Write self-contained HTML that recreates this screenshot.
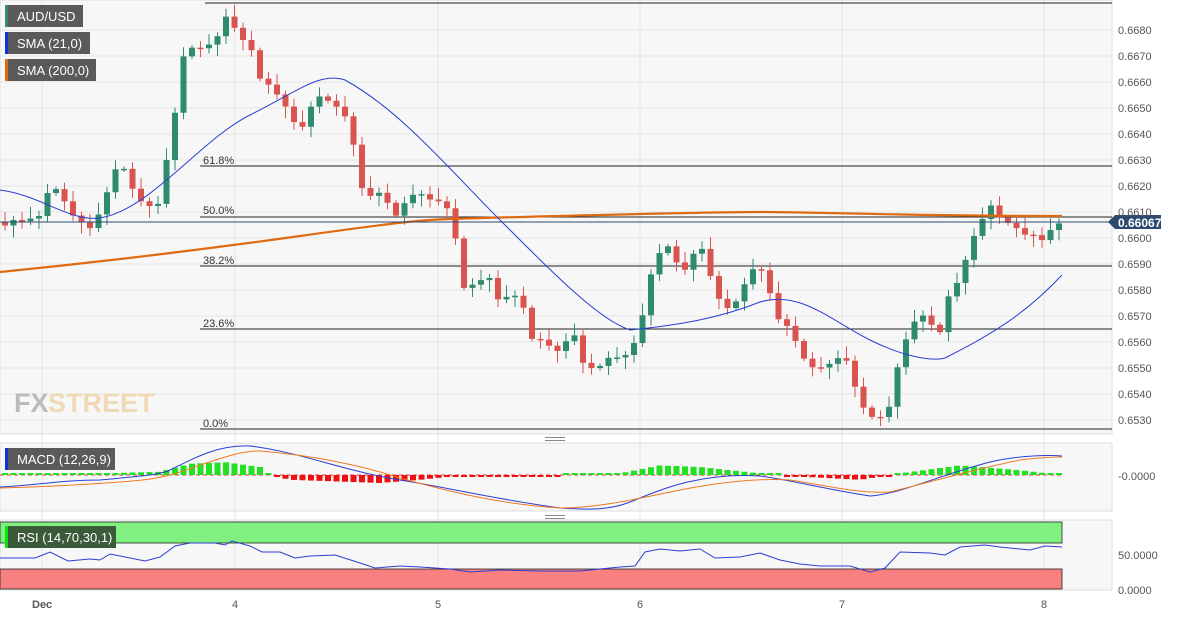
<!DOCTYPE html><html><head><meta charset="utf-8"><style>
body{margin:0;background:#fff;font-family:"Liberation Sans",sans-serif}
svg text{font-family:"Liberation Sans",sans-serif}
</style></head><body>
<svg id="s" width="1182" height="616" xmlns="http://www.w3.org/2000/svg">
<rect x="0" y="0" width="1112" height="434" fill="#f7f7f8" stroke="#ddd"/>
<rect x="0" y="443" width="1112" height="68" fill="#f7f7f8" stroke="#ddd"/>
<rect x="0" y="520" width="1112" height="70" fill="#f7f7f8" stroke="#ddd"/>
<g stroke="#e4e4e6" stroke-width="1">
<line x1="42" y1="0" x2="42" y2="590"/><line x1="235" y1="0" x2="235" y2="590"/><line x1="438" y1="0" x2="438" y2="590"/><line x1="640" y1="0" x2="640" y2="590"/><line x1="842" y1="0" x2="842" y2="590"/><line x1="1044" y1="0" x2="1044" y2="590"/>
<line x1="0" y1="30" x2="1112" y2="30"/><line x1="0" y1="56" x2="1112" y2="56"/><line x1="0" y1="82" x2="1112" y2="82"/><line x1="0" y1="108" x2="1112" y2="108"/><line x1="0" y1="134" x2="1112" y2="134"/><line x1="0" y1="160" x2="1112" y2="160"/><line x1="0" y1="186" x2="1112" y2="186"/><line x1="0" y1="212" x2="1112" y2="212"/><line x1="0" y1="238" x2="1112" y2="238"/><line x1="0" y1="264" x2="1112" y2="264"/><line x1="0" y1="290" x2="1112" y2="290"/><line x1="0" y1="316" x2="1112" y2="316"/><line x1="0" y1="342" x2="1112" y2="342"/><line x1="0" y1="368" x2="1112" y2="368"/><line x1="0" y1="394" x2="1112" y2="394"/><line x1="0" y1="420" x2="1112" y2="420"/>
</g>
<text x="14" y="412" font-size="27" font-weight="bold" fill="#bbb">FX</text><text x="48" y="412" font-size="27" font-weight="bold" fill="#f0d9b5">STREET</text>
<g stroke="#222" stroke-width="1">
<line x1="205" y1="3" x2="1112" y2="3"/><line x1="200" y1="166" x2="1112" y2="166"/><line x1="200" y1="217" x2="1112" y2="217"/><line x1="200" y1="266" x2="1112" y2="266"/><line x1="200" y1="329" x2="1112" y2="329"/><line x1="200" y1="429" x2="1112" y2="429"/>
</g>
<g font-size="11" fill="#333"><text x="203" y="164">61.8%</text><text x="203" y="214">50.0%</text><text x="203" y="264">38.2%</text><text x="203" y="327">23.6%</text><text x="203" y="427">0.0%</text></g>
<g id="c"></g>
<path d="M0,272 C100,262 200,250 300,236 S420,220 450,219 S700,212 760,212 S900,216 1062,216" fill="none" stroke="#e06a10" stroke-width="2.2"/>
<path d="M0,190 C40,195 70,222 100,218 C150,210 200,140 250,115 C300,90 320,72 345,80 C400,110 450,170 500,220 C560,280 600,320 630,330 C680,325 720,318 760,302 C800,290 830,320 870,340 C900,355 930,362 945,358 C980,340 1020,320 1062,275" fill="none" stroke="#2a3fd0" stroke-width="1"/>
<line x1="0" y1="222" x2="1112" y2="222" stroke="#2c4a6e" stroke-width="1"/>
<path d="M1108,222 l7,-7 h46 v14 h-46z" fill="#2c4a6e"/>
<text x="1118" y="227" font-size="12" font-weight="bold" fill="#fff">0.66067</text>
<g font-size="11" fill="#555">
<text x="1118" y="34">0.6680</text><text x="1118" y="60">0.6670</text><text x="1118" y="86">0.6660</text><text x="1118" y="112">0.6650</text><text x="1118" y="138">0.6640</text><text x="1118" y="164">0.6630</text><text x="1118" y="190">0.6620</text><text x="1118" y="216">0.6610</text><text x="1118" y="242">0.6600</text><text x="1118" y="268">0.6590</text><text x="1118" y="294">0.6580</text><text x="1118" y="320">0.6570</text><text x="1118" y="346">0.6560</text><text x="1118" y="372">0.6550</text><text x="1118" y="398">0.6540</text><text x="1118" y="424">0.6530</text>
<text x="1118" y="480">-0.0000</text><text x="1118" y="559">50.0000</text><text x="1118" y="594">0.0000</text>
<text x="32" y="608" font-weight="bold">Dec</text><text x="232" y="608">4</text><text x="435" y="608">5</text><text x="637" y="608">6</text><text x="839" y="608">7</text><text x="1041" y="608">8</text>
</g>
<rect x="545" y="437" width="20" height="1" fill="#888"/><rect x="545" y="440" width="20" height="1" fill="#888"/>
<rect x="545" y="515" width="20" height="1" fill="#888"/><rect x="545" y="518" width="20" height="1" fill="#888"/>
<line x1="0" y1="475" x2="1062" y2="475" stroke="#e33" stroke-dasharray="4,3" stroke-width="1"/>
<g id="h"></g>
<path d="M0,487 C40,485 60,480 100,480 C140,476 160,475 170,470 C200,455 220,445 250,446 C300,452 340,470 400,480 C450,488 500,500 560,508 C590,510 610,510 630,502 C660,490 700,472 760,476 C790,480 830,490 870,496 C900,494 940,475 990,462 C1020,455 1050,455 1062,456" fill="none" stroke="#2a3fd0" stroke-width="1"/>
<path d="M0,488 C40,487 80,485 120,482 C150,480 165,477 180,472 C210,462 240,450 260,451 C310,455 360,465 400,478 C450,492 500,504 560,508 C600,508 640,498 680,490 C720,482 760,478 790,480 C830,486 860,494 890,492 C930,482 980,468 1020,460 C1045,457 1060,457 1062,457" fill="none" stroke="#f07a20" stroke-width="1"/>
<rect x="0" y="522" width="1062" height="21" fill="#80f080" stroke="#222" stroke-width="0.8"/>
<rect x="0" y="569" width="1062" height="20" fill="#f88080" stroke="#222" stroke-width="0.8"/>
<path d="M0,558 L35,558 L50,552 L68,561 L90,559 L100,560 L110,554 L125,557 L145,561 L160,557 L175,546 L190,543 L215,543 L225,545 L232,541 L250,546 L262,552 L280,552 L295,558 L310,556 L335,555 L360,563 L375,568 L400,566 L420,567 L450,569 L470,572 L500,570 L540,571 L560,571 L580,571 L600,569 L620,567 L635,566 L645,552 L660,549 L680,551 L700,549 L715,558 L740,557 L760,553 L780,560 L800,564 L820,566 L850,566 L870,572 L885,568 L900,552 L930,553 L945,555 L960,547 L985,545 L1000,547 L1030,550 L1045,546 L1062,547" fill="none" stroke="#2a3fd0" stroke-width="1"/>
<g font-size="13" fill="#fff">
<rect x="5" y="5" width="78" height="22" fill="#5a5a5a"/><rect x="5" y="5" width="3" height="22" fill="#2e8b6e"/><text x="17" y="21">AUD/USD</text>
<rect x="5" y="32" width="85" height="22" fill="#5a5a5a"/><rect x="5" y="32" width="3" height="22" fill="#1030e0"/><text x="17" y="48">SMA (21,0)</text>
<rect x="5" y="59" width="91" height="22" fill="#5a5a5a"/><rect x="5" y="59" width="3" height="22" fill="#e06a10"/><text x="17" y="75">SMA (200,0)</text>
<rect x="5" y="448" width="110" height="22" fill="#5a5a5a"/><rect x="5" y="448" width="3" height="22" fill="#1030e0"/><text x="17" y="464">MACD (12,26,9)</text>
<rect x="5" y="526" width="111" height="22" fill="#3a5a3a"/><rect x="5" y="526" width="3" height="22" fill="#10e010"/><text x="17" y="542">RSI (14,70,30,1)</text>
</g>
</svg>
<script>
var P=[[5,6606],[20,6605],[40,6608],[50,6620],[60,6618],[70,6610],[90,6605],[100,6608],[110,6620],[120,6630],[130,6620],[145,6612],[160,6614],[170,6640],[178,6655],[185,6672],[200,6672],[215,6675],[228,6687],[238,6678],[250,6675],[262,6660],[275,6655],[285,6650],[300,6640],[310,6650],[320,6655],[335,6652],[345,6648],[355,6632],[365,6612],[375,6618],[385,6615],[395,6608],[410,6617],[425,6618],[440,6612],[448,6610],[455,6600],[465,6578],[475,6583],[490,6585],[500,6575],[510,6580],[520,6578],[530,6560],[545,6560],[555,6555],[565,6560],[575,6563],[585,6550],[600,6552],[620,6553],[630,6555],[640,6565],[650,6585],[660,6595],[670,6598],[680,6588],[690,6590],[700,6597],[710,6585],[720,6575],[730,6572],[740,6578],[750,6588],[760,6590],[770,6580],[780,6565],[790,6565],[800,6555],[810,6550],[820,6550],[830,6552],[840,6555],[850,6553],[860,6535],[870,6530],[880,6530],[890,6535],[900,6555],[910,6565],[920,6572],[930,6568],[940,6565],[950,6578],[960,6583],[970,6597],[980,6605],[990,6613],[1000,6608],[1010,6606],[1020,6604],[1030,6601],[1040,6597],[1050,6602],[1062,6606]];
function f(x){for(var i=1;i<P.length;i++)if(x<=P[i][0]){var a=P[i-1],b=P[i];return a[1]+(b[1]-a[1])*(x-a[0])/(b[0]-a[0]);}return P[P.length-1][1];}
function y(p){return 30+(6680-p)*2.6;}
var g=document.getElementById('c'),s='',prev=6606;
for(var x=5;x<=1062;x+=8.5){var c=f(x)+((x*7)%5-2)*0.6,o=prev,hi=Math.max(o,c)+1+(x*3)%4,lo=Math.min(o,c)-1-(x*5)%4;var col=c>=o?'#2e8b6e':'#d9534f';
s+='<line x1="'+x+'" x2="'+x+'" y1="'+y(hi)+'" y2="'+y(lo)+'" stroke="'+col+'"/>';var t=y(Math.max(o,c)),h=Math.max(1.5,Math.abs(o-c)*2.6);s+='<rect x="'+(x-3)+'" y="'+t+'" width="6" height="'+h+'" fill="'+col+'"/>';prev=c;}
g.innerHTML=s;
var H=[[0,0],[40,1],[100,1],[160,2],[190,7],[225,8],[260,5],[270,0],[290,-3],[380,-5],[420,-3],[450,-1],[560,0],[620,1],[660,6],[700,5],[760,1],[800,-1],[860,-3],[900,1],[960,6],[1020,3],[1062,0]];
function hf(x){for(var i=1;i<H.length;i++)if(x<=H[i][0]){var a=H[i-1],b=H[i];return a[1]+(b[1]-a[1])*(x-a[0])/(b[0]-a[0]);}return 0;}
var hs='';for(var x=5;x<=1062;x+=8.5){var v=hf(x)*1.6,col=v>=0?'#22e022':'#ee1010';var hh=Math.max(2,Math.abs(v));hs+='<rect x="'+(x-3)+'" y="'+(v>=0?475-hh:475)+'" width="6" height="'+hh+'" fill="'+col+'"/>';}
document.getElementById('h').innerHTML=hs;
</script>
</body></html>
